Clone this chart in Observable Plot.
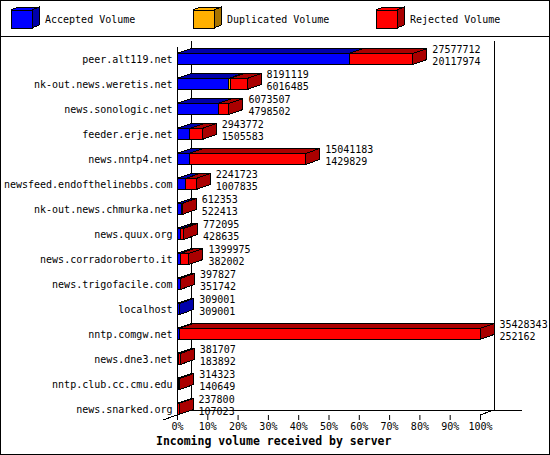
<!DOCTYPE html>
<html>
<head>
<meta charset="utf-8">
<script src="https://cdn.jsdelivr.net/npm/d3@7"></script>
<script src="https://cdn.jsdelivr.net/npm/@observablehq/plot@0.6"></script>
<style>
html,body{margin:0;padding:0;background:#fff;}
#wrap{position:relative;width:550px;height:455px;overflow:hidden;background:#fff;font-family:"DejaVu Sans Mono",monospace;color:#000;}
#border{position:absolute;left:0;top:0;width:550px;height:455px;box-sizing:border-box;border:1px solid #000;pointer-events:none;z-index:5;}
#sep{position:absolute;left:0;top:36px;width:550px;height:1px;background:#000;}
.leg{position:absolute;top:0;height:36px;width:180px;}
.leg svg{position:absolute;left:0;top:0;overflow:visible;}
.leg span{position:absolute;top:15px;font-size:10px;line-height:10px;white-space:pre;}
#chart{position:absolute;left:0;top:37px;}
#title{position:absolute;left:156px;top:436px;font-size:11.5px;line-height:11.5px;font-weight:bold;white-space:pre;}
</style>
</head>
<body>
<div id="wrap">
  <div id="legend"></div>
  <div id="sep"></div>
  <div id="chart"></div>
  <div id="title">Incoming volume received by server</div>
  <div id="border"></div>
</div>
<script>
const servers = [
  "peer.alt119.net","nk-out.news.weretis.net","news.sonologic.net","feeder.erje.net",
  "news.nntp4.net","newsfeed.endofthelinebbs.com","nk-out.news.chmurka.net","news.quux.org",
  "news.corradoroberto.it","news.trigofacile.com","localhost","nntp.comgw.net",
  "news.dne3.net","nntp.club.cc.cmu.edu","news.snarked.org"
];
const totalVolume = [27577712, 8191119, 6073507, 2943772, 15041183, 2241723, 612353, 772095,
  1399975, 397827, 309001, 35428343, 381707, 314323, 237800];
const acceptedVolume = [20117974, 6016485, 4798502, 1505583, 1429829, 1007835, 522413, 428635,
  382002, 351742, 309001, 252162, 183892, 140649, 107023];
const duplicatedVolume = [0, 200000, 0, 0, 0, 0, 0, 0, 0, 0, 0, 0, 0, 0, 0];
const xTicks = [0, 10, 20, 30, 40, 50, 60, 70, 80, 90, 100];
const seriesNames = ["Accepted Volume", "Duplicated Volume", "Rejected Volume"];
const seriesFront = ["#0000ff", "#ffb000", "#ff0000"];
const seriesDark = ["#0000aa", "#a87400", "#aa0000"];

// geometry (style)
const DX = 14, DY = 5, INSET = 7;

// derived tables
const maxTotal = d3.max(totalVolume);
const segments = [];
servers.forEach((s, i) => {
  const a = acceptedVolume[i], d = duplicatedVolume[i], t = totalVolume[i];
  const parts = [a, d, Math.max(0, t - a - d)];
  let acc = 0;
  parts.forEach((v, k) => {
    if (v > 0) {
      segments.push({server: s, series: seriesNames[k], k, x1: acc / maxTotal * 100, x2: (acc + v) / maxTotal * 100});
      acc += v;
    }
  });
});
const rows = servers.map((s, i) => ({server: s, total: totalVolume[i], accepted: acceptedVolume[i], pct: totalVolume[i] / maxTotal * 100}));

// legend
const legendLeft = [10, 192, 375];
const legend = d3.select("#legend");
seriesNames.forEach((name, k) => {
  const item = legend.append("div").attr("class", "leg").style("left", legendLeft[k] + "px");
  const svg = item.append("svg").attr("width", 32).attr("height", 36).attr("shape-rendering", "crispEdges");
  const x0 = 1, y0 = 10, w = 21, h = 18, dx = 7, dy = 3;
  svg.append("polygon").attr("points", [[x0, y0], [x0 + w, y0], [x0 + w + dx, y0 - dy], [x0 + dx, y0 - dy]].join(" "))
    .attr("fill", seriesFront[k]).attr("stroke", "#000");
  svg.append("polygon").attr("points", [[x0 + w, y0], [x0 + w + dx, y0 - dy], [x0 + w + dx, y0 + h - dy], [x0 + w, y0 + h]].join(" "))
    .attr("fill", seriesDark[k]).attr("stroke", "#000");
  svg.append("rect").attr("x", x0).attr("y", y0).attr("width", w).attr("height", h)
    .attr("fill", seriesFront[k]).attr("stroke", "#000");
  item.append("span").style("left", "35px").text(name);
});

// 3D box frame (uses the plot's scales)
function boxFrame(index, scales) {
  const x0 = scales.x(0), x100 = scales.x(100);
  const [r0, r1] = scales.y.range();
  const backTop = r0 - 5.5, frontTop = r0, floorBack = r1 - 11.5, floorFront = floorBack + DY;
  const g = d3.create("svg:g").attr("stroke", "#000").attr("fill", "none").attr("shape-rendering", "crispEdges");
  const lines = [
    [x0, frontTop, x0, floorFront],
    [x0 + DX, backTop, x0 + DX, floorBack],
    [x100 + DX, backTop, x100 + DX, floorBack],
    [x0 + DX, floorBack, x100 + 3 * DX, floorBack],
    [x100, floorFront, x100 + DX, floorBack],
    [x0 - DX, floorFront + DY, x0, floorFront]
  ];
  for (const [a, b, c, d] of lines) g.append("line").attr("x1", a).attr("y1", b).attr("x2", c).attr("y2", d);
  return g.node();
}

// top and side faces of each stacked segment (uses the plot's scales)
function boxFaces(index, scales) {
  const g = d3.create("svg:g").attr("stroke", "#000").attr("shape-rendering", "crispEdges");
  const bw = scales.y.bandwidth ? scales.y.bandwidth() : 25;
  for (const s of segments) {
    const X1 = scales.x(s.x1), X2 = scales.x(s.x2);
    const Y0 = scales.y(s.server) + INSET, Y1 = scales.y(s.server) + bw - INSET;
    g.append("polygon").attr("points", [[X1, Y0], [X2, Y0], [X2 + DX, Y0 - DY], [X1 + DX, Y0 - DY]].join(" "))
      .attr("fill", seriesDark[s.k]);
    g.append("polygon").attr("points", [[X2, Y0], [X2 + DX, Y0 - DY], [X2 + DX, Y1 - DY], [X2, Y1]].join(" "))
      .attr("fill", seriesDark[s.k]);
  }
  return g.node();
}

const plot = Plot.plot({
  width: 550,
  height: 400,
  marginLeft: 177,
  marginRight: 70,
  marginTop: 9.5,
  marginBottom: 22,
  style: {fontFamily: "'DejaVu Sans Mono', monospace", fontSize: "10px", color: "#000", background: "transparent", overflow: "visible"},
  x: {domain: [0, 100]},
  y: {domain: servers, range: [9.5, 384.5], padding: 0, round: false},
  color: {domain: seriesNames, range: seriesFront},
  marks: [
    boxFrame,
    boxFaces,
    Plot.barX(segments, {x1: "x1", x2: "x2", y: "server", fill: "series", stroke: "#000", strokeWidth: 1,
      insetTop: INSET, insetBottom: INSET, shapeRendering: "crispEdges"}),
    Plot.text(rows, {x: "pct", y: "server", text: d => String(d.total), dx: 19, dy: -9.5, textAnchor: "start", fill: "#000"}),
    Plot.text(rows, {x: "pct", y: "server", text: d => String(d.accepted), dx: 19, dy: 2, textAnchor: "start", fill: "#000"}),
    Plot.axisY({tickSize: 0, tickPadding: 5, label: null}),
    Plot.axisX({ticks: xTicks, tickFormat: d => d + "%", tickSize: 5, tickPadding: 2, label: null})
  ]
});
document.getElementById("chart").appendChild(plot);
</script>
</body>
</html>
